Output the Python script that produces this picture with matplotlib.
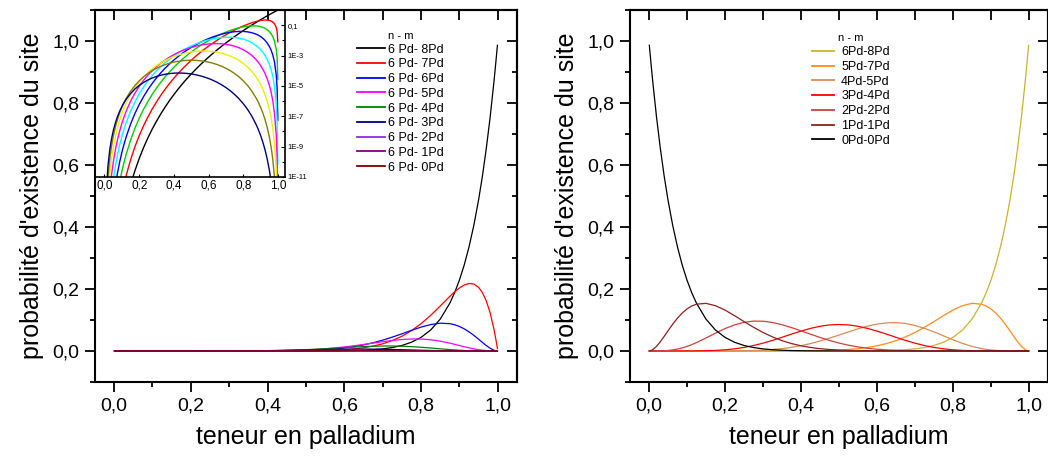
import math
import matplotlib
matplotlib.use("Agg")
import matplotlib.pyplot as plt
from matplotlib.ticker import MultipleLocator, FixedLocator, FuncFormatter, NullFormatter

plt.rcParams['font.family'] = ['Liberation Sans', 'DejaVu Sans']

# ---------------- data ----------------
x = [0.001, 0.005, 0.01, 0.02, 0.03, 0.04, 0.05, 0.0625, 0.075, 0.0875, 0.1, 0.1125,
     0.125, 0.15, 0.175, 0.2, 0.225, 0.25, 0.275, 0.3, 0.325, 0.35, 0.375, 0.4, 0.425,
     0.45, 0.475, 0.5, 0.525, 0.55, 0.575, 0.6, 0.625, 0.65, 0.675, 0.7, 0.725, 0.75,
     0.775, 0.8, 0.825, 0.85, 0.875, 0.8875, 0.9, 0.9125, 0.925, 0.9375, 0.95, 0.96,
     0.97, 0.98, 0.99, 0.995, 0.999]

# left panel: sites 6 Pd - m Pd
p6_8 = [1e-42, 6.1e-33, 1e-28, 1.64e-24, 4.8e-22, 2.7e-20, 6.1e-19, 1.39e-17, 1.78e-16,
        1.54e-15, 1e-14, 5.2e-14,
        2.28e-13, 2.92e-12, 2.53e-11, 1.64e-10, 8.53e-10, 3.73e-9, 1.42e-8, 4.78e-8, 1.47e-7,
        4.14e-7, 1.09e-6, 2.68e-6, 6.27e-6, 1.40e-5, 2.98e-5, 6.10e-5, 1.21e-4, 2.32e-4,
        4.32e-4, 7.83e-4, 1.39e-3, 2.40e-3, 4.07e-3, 6.78e-3, 1.11e-2, 1.78e-2, 2.82e-2,
        4.40e-2, 6.76e-2, 0.1028, 0.1542,
        0.1881, 0.2288, 0.2774, 0.3357, 0.4050,
        0.4877, 0.5647, 0.6531, 0.7536, 0.8687, 0.9322, 0.9861]
p6_7 = [8e-39, 9.7e-30, 7.9e-26, 6.4e-22, 1.24e-19, 5.2e-18, 9.3e-17, 1.67e-15, 1.76e-14,
        1.29e-13, 7.2e-13, 3.28e-12,
        1.27e-11, 1.32e-10, 9.53e-10, 5.24e-9, 2.35e-8, 8.93e-8, 2.98e-7, 8.93e-7, 2.44e-6,
        6.15e-6, 1.45e-5, 3.22e-5, 6.79e-5, 1.36e-4, 2.63e-4, 4.88e-4, 8.75e-4, 1.52e-3,
        2.55e-3, 4.18e-3, 6.65e-3, 1.035e-2, 1.57e-2, 2.32e-2, 3.37e-2, 4.75e-2, 6.55e-2,
        8.79e-2, 0.1148, 0.1451, 0.1762,
        0.1908, 0.2033, 0.2129, 0.2178, 0.2161,
        0.2053, 0.1883, 0.1615, 0.1231, 0.0702, 0.0375, 0.0079]
p6_6 = [2.8e-35, 6.8e-27, 2.7e-23, 1.1e-19, 1.4e-17, 4.3e-16, 6.2e-15, 8.7e-14, 7.6e-13,
        4.70e-12, 2.27e-11, 9.06e-11,
        3.12e-10, 2.62e-9, 1.57e-8, 7.34e-8, 2.83e-7, 9.39e-7, 2.75e-6, 7.29e-6, 1.77e-5,
        4.00e-5, 8.46e-5, 1.69e-4, 3.21e-4, 5.84e-4, 1.02e-3, 1.709e-3, 2.77e-3, 4.34e-3,
        6.61e-3, 9.75e-3, 1.40e-2, 1.95e-2, 2.65e-2, 3.49e-2, 4.47e-2, 5.54e-2, 6.65e-2,
        7.70e-2, 8.52e-2, 8.96e-2, 8.81e-2,
        8.46e-2, 7.91e-2, 7.14e-2, 6.18e-2, 5.04e-2,
        3.78e-2, 2.74e-2, 1.75e-2, 8.79e-3, 2.48e-3, 6.59e-4, 2.77e-5]
p6_5 = [5.6e-32, 2.7e-24, 5.4e-21, 1.08e-17, 9.1e-16, 2.08e-14, 2.3e-13, 2.62e-12, 1.87e-11,
        9.79e-11, 4.08e-10, 1.43e-9,
        4.37e-9, 2.98e-8, 1.48e-7, 5.87e-7, 1.95e-6, 5.63e-6, 1.45e-5, 3.40e-5, 7.36e-5,
        1.485e-4, 2.82e-4, 5.07e-4, 8.70e-4, 1.43e-3, 2.25e-3, 3.42e-3, 5.01e-3, 7.11e-3,
        9.77e-3, 1.30e-2, 1.68e-2, 2.10e-2, 2.55e-2, 2.99e-2, 3.39e-2, 3.70e-2, 3.86e-2,
        3.85e-2, 3.62e-2, 3.16e-2, 2.52e-2,
        2.146e-2, 1.757e-2, 1.370e-2, 1.00e-2, 6.72e-3,
        3.98e-3, 2.29e-3, 1.08e-3, 3.59e-4, 5.01e-5, 6.62e-6, 5.54e-8]
p6_4 = [6.9e-29, 6.7e-22, 6.7e-19, 6.6e-16, 3.66e-14, 6.2e-13, 5.57e-12, 4.92e-11, 2.89e-10,
        1.277e-9, 4.59e-9, 1.41e-8,
        3.82e-8, 2.11e-7, 8.73e-7, 2.94e-6, 8.39e-6, 2.11e-5, 4.78e-5, 9.92e-5, 1.91e-4,
        3.45e-4, 5.87e-4, 9.51e-4, 1.47e-3, 2.18e-3, 3.11e-3, 4.27e-3, 5.67e-3, 7.27e-3,
        9.03e-3, 1.083e-2, 1.259e-2, 1.414e-2, 1.533e-2, 1.602e-2, 1.606e-2, 1.540e-2,
        1.402e-2, 1.202e-2, 9.59e-3, 6.98e-3, 4.50e-3,
        3.40e-3, 2.44e-3, 1.642e-3, 1.015e-3, 5.60e-4,
        2.62e-4, 1.19e-4, 4.18e-5, 9.15e-6, 6.33e-7, 4.16e-8, 6.93e-11]
p6_3 = [5.6e-26, 1.07e-19, 5.3e-17, 2.59e-14, 9.5e-13, 1.20e-11, 8.46e-11, 5.90e-10, 2.85e-9,
        1.065e-8, 3.31e-8, 8.90e-8,
        2.14e-7, 9.55e-7, 3.29e-6, 9.40e-6, 2.31e-5, 5.07e-5, 1.009e-4, 1.852e-4, 3.17e-4,
        5.12e-4, 7.83e-4, 1.141e-3, 1.592e-3, 2.133e-3, 2.75e-3, 3.418e-3, 4.10e-3, 4.76e-3,
        5.34e-3, 5.78e-3, 6.04e-3, 6.09e-3, 5.91e-3, 5.49e-3, 4.87e-3, 4.105e-3, 3.257e-3,
        2.405e-3, 1.627e-3, 9.85e-4, 5.14e-4,
        3.45e-4, 2.17e-4, 1.26e-4, 6.59e-5, 2.99e-5,
        1.103e-5, 3.97e-6, 1.034e-6, 1.494e-7, 5.12e-9, 1.67e-10, 5.5e-14]
p6_2 = [2.8e-23, 1.06e-17, 2.6e-15, 6.36e-13, 1.53e-11, 1.436e-10, 8.04e-10, 4.43e-9,
        1.756e-8, 5.56e-8, 1.487e-7, 3.51e-7,
        7.50e-7, 2.70e-6, 7.76e-6, 1.879e-5, 3.98e-5, 7.62e-5, 1.330e-4, 2.16e-4, 3.30e-4,
        4.76e-4, 6.52e-4, 8.57e-4, 1.078e-3, 1.302e-3, 1.520e-3, 1.709e-3, 1.856e-3,
        1.946e-3, 1.971e-3, 1.926e-3, 1.814e-3, 1.641e-3, 1.422e-3, 1.176e-3, 9.24e-4,
        6.84e-4, 4.73e-4, 3.01e-4, 1.725e-4, 8.68e-5, 3.67e-5,
        2.19e-5, 1.204e-5, 6.04e-6, 2.67e-6, 9.96e-7,
        2.90e-7, 8.29e-8, 1.60e-8, 1.526e-9, 2.58e-11, 4.2e-13, 2.8e-17]
p6_1 = [7.9e-21, 6.0e-16, 7.46e-14, 8.89e-12, 1.414e-10, 9.85e-10, 4.36e-9, 1.90e-8, 6.19e-8,
        1.655e-7, 3.83e-7, 7.91e-7,
        1.498e-6, 4.38e-6, 1.046e-5, 2.147e-5, 3.92e-5, 6.52e-5, 1.002e-4, 1.441e-4,
        1.956e-4, 2.52e-4, 3.11e-4, 3.67e-4, 4.16e-4, 4.55e-4, 4.80e-4, 4.88e-4, 4.80e-4,
        4.55e-4, 4.16e-4, 3.67e-4, 3.11e-4, 2.52e-4, 1.956e-4, 1.441e-4, 1.002e-4, 6.52e-5,
        3.92e-5, 2.147e-5, 1.046e-5, 4.38e-6, 1.498e-6,
        7.91e-7, 3.83e-7, 1.655e-7, 6.19e-8, 1.90e-8,
        4.36e-9, 9.85e-10, 1.414e-10, 8.89e-12, 7.46e-14, 6.0e-16, 7.9e-21]
p6_0 = [9.9e-19, 1.50e-14, 9.23e-13, 5.45e-11, 5.71e-10, 2.96e-9, 1.036e-8, 3.56e-8, 9.54e-8,
        2.16e-7, 4.30e-7, 7.81e-7,
        1.311e-6, 3.10e-6, 6.16e-6, 1.074e-5, 1.689e-5, 2.444e-5, 3.30e-5, 4.20e-5, 5.08e-5,
        5.86e-5, 6.48e-5, 6.88e-5, 7.04e-5, 6.95e-5, 6.63e-5, 6.10e-5, 5.43e-5, 4.65e-5,
        3.85e-5, 3.06e-5, 2.33e-5, 1.70e-5, 1.177e-5, 7.72e-6, 4.75e-6, 2.72e-6, 1.423e-6,
        6.71e-7, 2.77e-7, 9.66e-8, 2.68e-8,
        1.254e-8, 5.31e-9, 1.98e-9, 6.27e-10, 1.58e-10,
        2.87e-11, 5.13e-12, 5.46e-13, 2.27e-14, 9.4e-17, 3.8e-19, 1e-24]

# right panel: sites n Pd - m Pd
p5_7 = [0.0] * 21 + [0.0001, 0.0001, 0.0003, 0.0006, 0.0010, 0.0018, 0.0029, 0.0048, 0.0074,
        0.0113, 0.0167, 0.0240, 0.0334, 0.0454, 0.0598, 0.0766, 0.0950, 0.1140, 0.1320,
        0.1461, 0.1536, 0.1510,
        0.1450, 0.1356, 0.1224, 0.1059, 0.0864,
        0.0648, 0.0470, 0.0300, 0.0151, 0.0043, 0.0011, 0.0000]
p4_5 = [0.0] * 15 + [0.0001, 0.0003, 0.0008, 0.0015, 0.0028, 0.0048, 0.0077, 0.0117, 0.0171,
        0.0239, 0.0320, 0.0413, 0.0513, 0.0615, 0.0714, 0.0801, 0.0867, 0.0906, 0.0914,
        0.0887, 0.0824, 0.0731, 0.0616, 0.0489, 0.0361, 0.0244, 0.0148, 0.0077,
        0.0052, 0.0033, 0.0019, 0.0010, 0.0004,
        0.0002, 0.0001] + [0.0] * 5
p3_4 = [0.0] * 10 + [0.0001, 0.0001,
        0.0003, 0.0008, 0.0018, 0.0038, 0.0069, 0.0114, 0.0175, 0.0252, 0.0342, 0.0441,
        0.0544, 0.0642, 0.0728, 0.0796, 0.0840, 0.0854, 0.0840, 0.0796, 0.0728, 0.0642,
        0.0544, 0.0441, 0.0342, 0.0252, 0.0175, 0.0114, 0.0069, 0.0038, 0.0018, 0.0008,
        0.0003, 0.0001, 0.0001] + [0.0] * 10
p2_2 = [0.0, 0.0, 0.0, 0.0001, 0.0003, 0.0007, 0.0016, 0.0034, 0.0061, 0.0099, 0.0146, 0.0204,
        0.0270, 0.0419, 0.0575, 0.0721, 0.0841, 0.0924, 0.0964, 0.0961, 0.0920, 0.0848,
        0.0755, 0.0650, 0.0542, 0.0436, 0.0340, 0.0256, 0.0187, 0.0131, 0.0088, 0.0057,
        0.0035, 0.0021, 0.0011, 0.0006, 0.0003, 0.0001, 0.0001] + [0.0] * 16
p1_1 = [0.0000, 0.0011, 0.0043, 0.0151, 0.0300, 0.0470, 0.0648, 0.0864, 0.1059, 0.1224,
        0.1356, 0.1450,
        0.1510, 0.1536, 0.1461, 0.1320, 0.1140, 0.0950, 0.0766, 0.0598, 0.0454, 0.0334,
        0.0240, 0.0167, 0.0113, 0.0074, 0.0048, 0.0029, 0.0018, 0.0010, 0.0006, 0.0003,
        0.0001, 0.0001] + [0.0] * 21
p0_0 = [0.9861, 0.9322, 0.8687, 0.7536, 0.6531, 0.5647, 0.4877, 0.4050, 0.3357, 0.2774,
        0.2288, 0.1881,
        0.1542, 0.1028, 0.0676, 0.0440, 0.0282, 0.0178, 0.0111, 0.0068, 0.0041, 0.0024,
        0.0014, 0.0008, 0.0004, 0.0002, 0.0001, 0.0001] + [0.0] * 27

left_labels = ['6 Pd- 8Pd', '6 Pd- 7Pd', '6 Pd- 6Pd', '6 Pd- 5Pd', '6 Pd- 4Pd',
               '6 Pd- 3Pd', '6 Pd- 2Pd', '6 Pd- 1Pd', '6 Pd- 0Pd']
left_series = [p6_8, p6_7, p6_6, p6_5, p6_4, p6_3, p6_2, p6_1, p6_0]
left_colors = ['#000000', '#ff0000', '#0000ff', '#ff00ff', '#008000',
               '#000080', '#8a2be2', '#800080', '#800000']
inset_colors = ['#000000', '#ff0000', '#00d000', '#0000ff', '#00ffff',
                '#ff00ff', '#eeee00', '#808000', '#000080']

right_labels = ['6Pd-8Pd', '5Pd-7Pd', '4Pd-5Pd', '3Pd-4Pd', '2Pd-2Pd', '1Pd-1Pd', '0Pd-0Pd']
right_series = [p6_8, p5_7, p4_5, p3_4, p2_2, p1_1, p0_0]
right_colors = ['#c8b430', '#ff8c1a', '#d98c55', '#ff0000', '#d04040', '#8b2020', '#000000']

for s in left_series + right_series:
    assert len(s) == len(x), len(s)

# ---------------- figure ----------------
fig = plt.figure(figsize=(10.48, 4.59), dpi=100)
ax1 = fig.add_axes([0.0906, 0.1678, 0.4027, 0.8105])
ax2 = fig.add_axes([0.6011, 0.1678, 0.3989, 0.8105])

comma = FuncFormatter(lambda v, pos: f"{v:.1f}".replace('.', ','))


def style_main(ax):
    ax.set_xlim(-0.05, 1.05)
    ax.set_ylim(-0.1, 1.1)
    ax.xaxis.set_major_locator(MultipleLocator(0.2))
    ax.xaxis.set_minor_locator(MultipleLocator(0.1))
    ax.yaxis.set_major_locator(MultipleLocator(0.2))
    ax.yaxis.set_minor_locator(MultipleLocator(0.1))
    ax.xaxis.set_major_formatter(comma)
    ax.yaxis.set_major_formatter(comma)
    ax.tick_params(which='both', direction='out', width=1.3, labelsize=14, pad=4)
    ax.tick_params(which='major', length=7)
    ax.tick_params(which='minor', length=3.5)
    for sp in ax.spines.values():
        sp.set_linewidth(1.5)
    top = ax.secondary_xaxis('top')
    top.xaxis.set_major_locator(MultipleLocator(0.1))
    top.xaxis.set_major_formatter(NullFormatter())
    top.tick_params(direction='in', length=7, width=1.3)
    top.spines['top'].set_linewidth(1.5)
    right = ax.secondary_yaxis('right')
    right.yaxis.set_major_locator(MultipleLocator(0.2))
    right.yaxis.set_minor_locator(MultipleLocator(0.1))
    right.yaxis.set_major_formatter(NullFormatter())
    right.tick_params(which='both', direction='in', width=1.3)
    right.tick_params(which='major', length=7)
    right.tick_params(which='minor', length=3.5)
    right.spines['right'].set_linewidth(1.5)
    ax.set_xlabel('teneur en palladium', fontsize=18, labelpad=8)
    ax.set_ylabel("probabilité d'existence du site", fontsize=18, labelpad=6)


# left panel
handles = []
for ser, col, lab in zip(left_series, left_colors, left_labels):
    h, = ax1.plot(x, ser, color=col, lw=0.9, label=lab)
    handles.append(h)
style_main(ax1)
leg1 = ax1.legend(handles=handles, title='n - m', loc='upper left',
                  bbox_to_anchor=(0.62, 0.944), frameon=False, fontsize=9,
                  title_fontsize=8, handlelength=2.3, handletextpad=0.25,
                  labelspacing=0.22, borderpad=0, borderaxespad=0)
for ln in leg1.get_lines():
    ln.set_linewidth(1.3)

# inset (log scale)
ins = fig.add_axes([0.0906, 0.6144, 0.1813, 0.3639])
ins.patch.set_alpha(0)
for ser, col in zip(left_series, inset_colors):
    ins.plot(x, ser, color=col, lw=1.0)
ins.set_yscale('log')
ins.set_ylim(1e-11, 1)
ins.set_xlim(-0.055, 1.04)
ins.xaxis.set_major_locator(MultipleLocator(0.2))
ins.xaxis.set_major_formatter(comma)
ins.yaxis.tick_right()
ins.yaxis.set_major_locator(FixedLocator([1e-1, 1e-3, 1e-5, 1e-7, 1e-9, 1e-11]))
ins.yaxis.set_minor_locator(FixedLocator([1, 1e-2, 1e-4, 1e-6, 1e-8, 1e-10]))
ins.yaxis.set_minor_formatter(NullFormatter())
ins.yaxis.set_major_formatter(FuncFormatter(
    lambda v, pos: '0,1' if abs(v - 0.1) < 1e-6 else '1E%d' % round(math.log10(v))))
ins.tick_params(axis='y', which='both', direction='in', labelsize=5.5, pad=2, width=0.8)
ins.tick_params(axis='y', which='major', length=3)
ins.tick_params(axis='y', which='minor', length=2)
ins.tick_params(axis='x', direction='in', length=2.5, width=0.8, labelsize=8.5, pad=2)
for sp in ins.spines.values():
    sp.set_linewidth(1.2)

# right panel
rh = {}
draw_order = [0, 1, 2, 3, 4, 6, 5]
for k in draw_order:
    h, = ax2.plot(x, right_series[k], color=right_colors[k], lw=0.9, label=right_labels[k])
    rh[k] = h
style_main(ax2)
leg2 = ax2.legend(handles=[rh[k] for k in range(7)], title='n - m', loc='upper left',
                  bbox_to_anchor=(0.435, 0.937), frameon=False, fontsize=9,
                  title_fontsize=8, handlelength=1.75, handletextpad=0.6,
                  labelspacing=0.22, borderpad=0, borderaxespad=0)
for ln in leg2.get_lines():
    ln.set_linewidth(1.3)

fig.savefig('out.png', dpi=100)
